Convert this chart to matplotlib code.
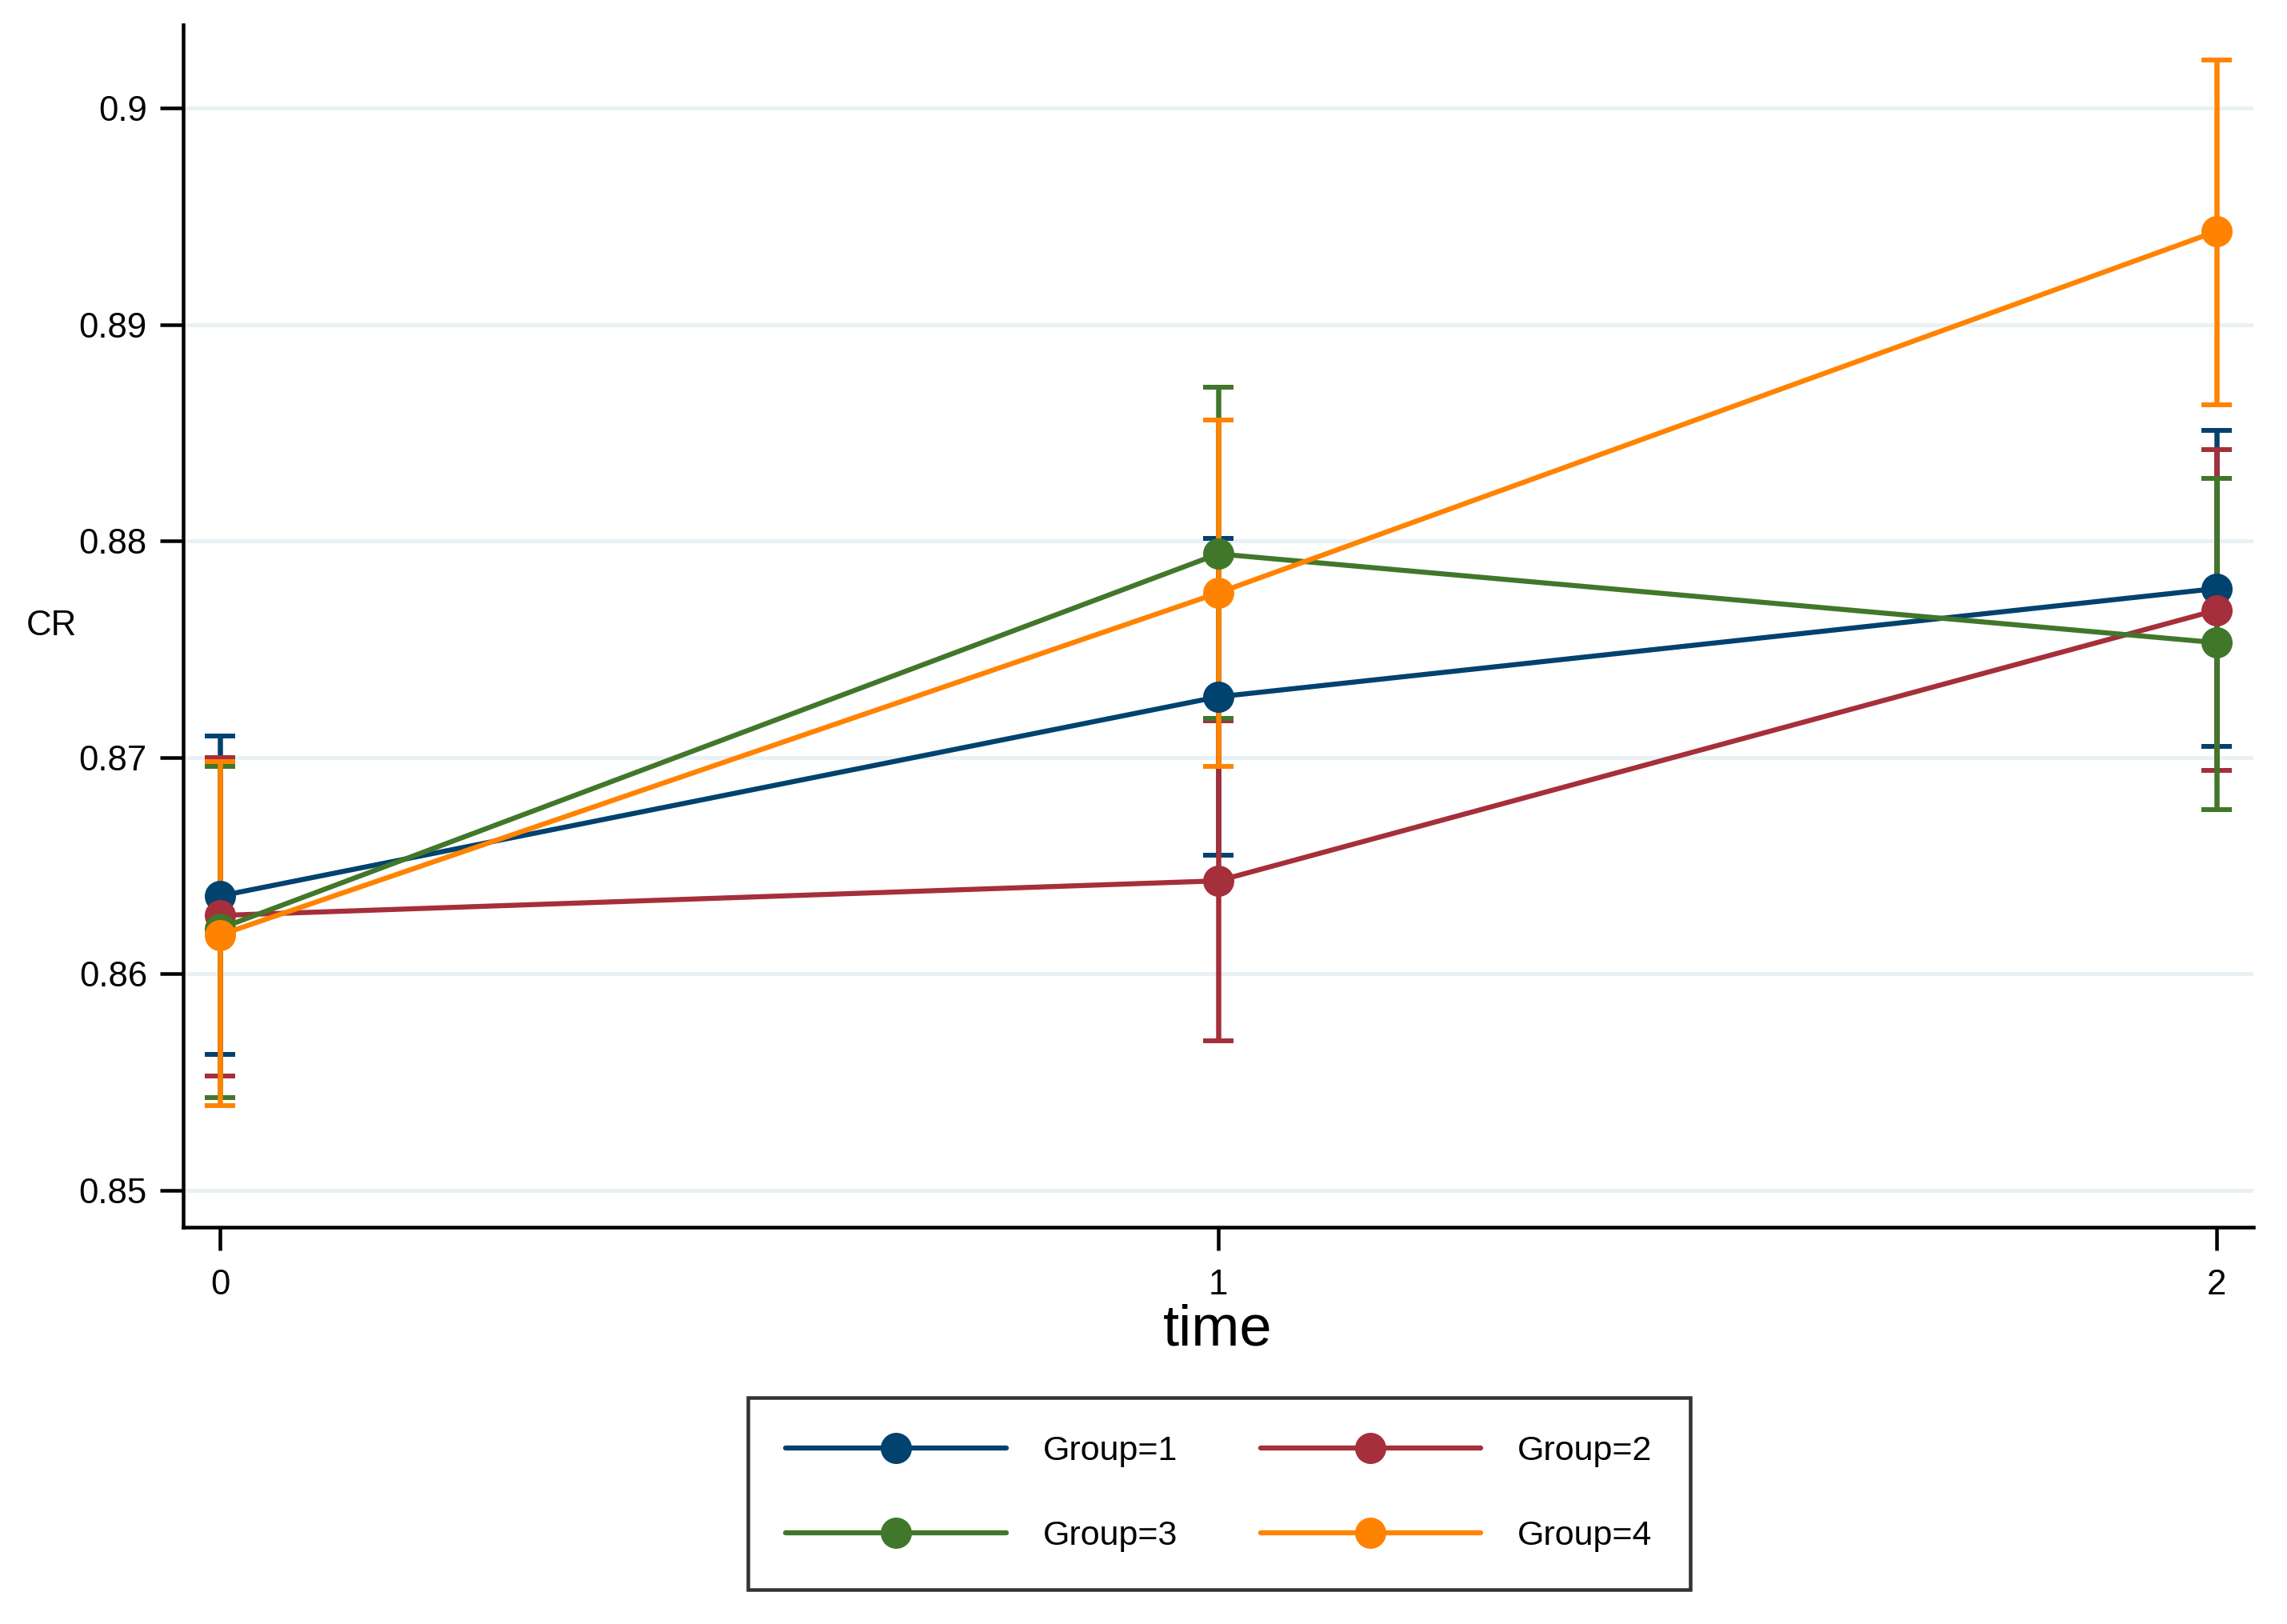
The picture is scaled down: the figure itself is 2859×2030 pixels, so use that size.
import matplotlib
matplotlib.use("Agg")
import matplotlib.pyplot as plt
import numpy as np

# ---- data ----
time = [0, 1, 2]
groups = ["Group=1", "Group=2", "Group=3", "Group=4"]
g1_mean = [0.8636, 0.8728, 0.8778]
g1_lo = [0.8563, 0.8655, 0.8705]
g1_hi = [0.8710, 0.8801, 0.8851]
g2_mean = [0.8627, 0.8643, 0.8768]
g2_lo = [0.8553, 0.8569, 0.8694]
g2_hi = [0.8700, 0.8717, 0.8842]
g3_mean = [0.8621, 0.8794, 0.8753]
g3_lo = [0.8543, 0.8718, 0.8676]
g3_hi = [0.8696, 0.8871, 0.8829]
g4_mean = [0.8618, 0.8776, 0.8943]
g4_lo = [0.8539, 0.8696, 0.8863]
g4_hi = [0.8698, 0.8856, 0.9022]
yticks = [0.85, 0.86, 0.87, 0.88, 0.89, 0.90]
ytick_labels = ["0.85", "0.86", "0.87", "0.88", "0.89", "0.9"]
xticks = [0, 1, 2]

colors = ["#02426F", "#A52F3B", "#41772A", "#FF8300"]

means = [g1_mean, g2_mean, g3_mean, g4_mean]
los = [g1_lo, g2_lo, g3_lo, g4_lo]
his = [g1_hi, g2_hi, g3_hi, g4_hi]

plt.rcParams['font.family'] = ['Liberation Sans', 'DejaVu Sans']

W, H = 2859, 2030
fig = plt.figure(figsize=(W / 100, H / 100), dpi=100)
ax_l, ax_r, ax_t, ax_b = 229, 2817, 31, 1534
ax = fig.add_axes([ax_l / W, 1 - ax_b / H, (ax_r - ax_l) / W, (ax_b - ax_t) / H])

px = 0.72  # points per pixel at dpi 100

# error bars first
for m, lo, hi, c in zip(means, los, his, colors):
    m = np.array(m); lo = np.array(lo); hi = np.array(hi)
    _, caps, bars = ax.errorbar(time, m, yerr=[m - lo, hi - m], fmt='none', ecolor=c,
                                elinewidth=6.5 * px, capsize=19 * px, capthick=6 * px,
                                zorder=2)
    for b in bars:
        b.set_capstyle('butt')

handles = []
for m, c, lab in zip(means, colors, groups):
    h, = ax.plot(time, m, '-', color=c, lw=6.3 * px, marker='o',
                 markersize=39 * px, markeredgewidth=0, label=lab, zorder=3,
                 solid_capstyle='round')
    handles.append(h)

ax.set_xlim(-0.037, 2.037)
ax.set_ylim(0.8483, 0.90384)
ax.set_yticks(yticks)
ax.set_yticklabels(ytick_labels)
ax.set_xticks(xticks)
ax.set_xticklabels([str(t) for t in xticks])

ax.grid(axis='y', color='#EAF1F4', linewidth=5 * px, zorder=0)
ax.set_axisbelow(True)

for s in ['top', 'right']:
    ax.spines[s].set_visible(False)
for s in ['left', 'bottom']:
    ax.spines[s].set_linewidth(4.5 * px)
    ax.spines[s].set_color('black')

ax.tick_params(axis='y', length=29 * px, width=4.5 * px, pad=16 * px, labelsize=31.5, colors='black')
ax.tick_params(axis='x', length=29 * px, width=4.5 * px, pad=23 * px, labelsize=31.5, colors='black')

ax.set_ylabel('CR', rotation=0, fontsize=31.5, ha='left', va='center')
ax.yaxis.set_label_coords((33 - ax_l) / (ax_r - ax_l), 0.5)
ax.set_xlabel('time', fontsize=52, va='center')
ax.xaxis.set_label_coords((1522 - ax_l) / (ax_r - ax_l), -(1663 - ax_b) / (ax_b - ax_t))

# legend filled row-wise: Group=1, Group=2 / Group=3, Group=4
order = [0, 2, 1, 3]
leg = fig.legend([handles[i] for i in order], [groups[i] for i in order], ncol=2,
                 loc='upper center',
                 bbox_to_anchor=(1524 / W, 1 - 1725 / H), fontsize=31,
                 frameon=True, fancybox=False, edgecolor='black',
                 handlelength=6.4, handletextpad=1.07, columnspacing=2.4,
                 labelspacing=1.53, borderpad=1.1, numpoints=1)
leg.get_frame().set_linewidth(4.5 * px)

fig.savefig('out.png', dpi=100, facecolor='white')
